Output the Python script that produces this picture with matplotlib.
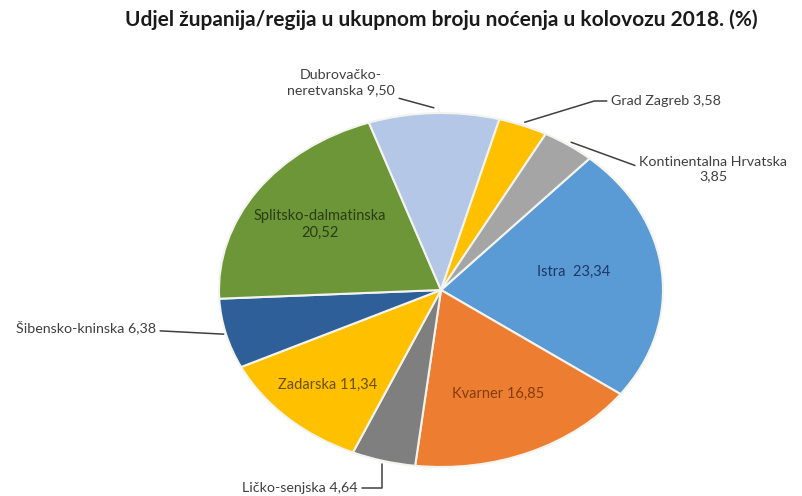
import numpy as np
import matplotlib.pyplot as plt

plt.rcParams['font.family'] = ['Lato', 'DejaVu Sans']

# data
regions = ['Istra', 'Kvarner', 'Ličko-senjska', 'Zadarska', 'Šibensko-kninska',
           'Splitsko-dalmatinska', 'Dubrovačko-neretvanska', 'Grad Zagreb',
           'Kontinentalna Hrvatska']
shares = [23.34, 16.85, 4.64, 11.34, 6.38, 20.52, 9.50, 3.58, 3.85]
colors = ['#5b9bd5', '#ed7d31', '#7f7f7f', '#ffc000', '#2f5f98',
          '#6c9637', '#b4c7e7', '#ffc000', '#a5a5a5']

W, H = 803, 496
fig = plt.figure(figsize=(W / 100, H / 100), dpi=100)

def fx(x, y):
    return (x / W, 1 - y / H)

# pie as an ellipse: centre (441, 290), rx 222, ry 177 px
cx, cy, rx, ry = 441, 290, 222, 177
ax = fig.add_axes([(cx - rx) / W, 1 - (cy + ry) / H, 2 * rx / W, 2 * ry / H])
wedges, _ = ax.pie(shares, colors=colors, startangle=48, counterclock=False,
                   radius=1.0, wedgeprops=dict(edgecolor='#f4f4ee', linewidth=1.5))
ax.set_aspect('auto')
ax.set_xlim(-1, 1)
ax.set_ylim(-1, 1)
ax.axis('off')

def mid(i):
    w = wedges[i]
    return np.deg2rad((w.theta1 + w.theta2) / 2)

# inside labels
inside = {0: ('Istra  23,34', 0.6, '#1f3864'),
          1: ('Kvarner 16,85', 0.64, '#843c0c'),
          3: ('Zadarska 11,34', 0.74, '#6b5000'),
          5: ('Splitsko-dalmatinska\n20,52', 0.66, '#2b3d14')}
for i, (txt, r, c) in inside.items():
    a = mid(i)
    ax.text(r * np.cos(a), r * np.sin(a) + (0.04 if i == 0 else 0), txt,
            ha='center', va='center', fontsize=10.5, color=c, linespacing=1.25)

# outside labels with leader lines
lc = '#404040'
fs = 10.3
line = dict(arrowstyle='-', color=lc, lw=1.1, shrinkA=1, shrinkB=0)

a = mid(6)
ax.annotate('Dubrovačko-\nneretvanska 9,50', xy=(1.0 * np.cos(a), 1.03 * np.sin(a)),
            xytext=fx(395, 96), textcoords='figure fraction', ha='right', va='bottom',
            multialignment='center', fontsize=fs, color=lc, linespacing=1.3,
            annotation_clip=False, arrowprops=dict(line, connectionstyle='arc3'))

a = mid(7)
ax.annotate('Grad Zagreb 3,58', xy=(1.02 * np.cos(a), 1.02 * np.sin(a)),
            xytext=fx(611, 101), textcoords='figure fraction', ha='left', va='center',
            fontsize=fs, color=lc, annotation_clip=False,
            arrowprops=dict(line, connectionstyle='angle,angleA=180,angleB=17,rad=0'))

a = mid(8)
ax.annotate('Kontinentalna Hrvatska\n3,85', xy=(1.02 * np.cos(a), 1.02 * np.sin(a)),
            xytext=fx(639, 169), textcoords='figure fraction', ha='left', va='center',
            multialignment='center', fontsize=fs, color=lc, linespacing=1.3,
            annotation_clip=False,
            arrowprops=dict(line, connectionstyle='angle,angleA=180,angleB=-20,rad=0'))

a = mid(4)
ax.annotate('Šibensko-kninska 6,38', xy=(1.01 * np.cos(a), 1.01 * np.sin(a)),
            xytext=fx(156, 327), textcoords='figure fraction', ha='right', va='center',
            fontsize=fs, color=lc, annotation_clip=False,
            arrowprops=dict(line, connectionstyle='arc3'))

a = mid(2)
ax.annotate('Ličko-senjska 4,64', xy=(1.02 * np.cos(a), 1.02 * np.sin(a)),
            xytext=fx(358, 488), textcoords='figure fraction', ha='right', va='center',
            fontsize=fs, color=lc, annotation_clip=False,
            arrowprops=dict(line, connectionstyle='angle,angleA=0,angleB=90,rad=0'))

fig.text(*fx(441, 20), 'Udjel županija/regija u ukupnom broju noćenja u kolovozu 2018. (%)',
         ha='center', va='center', fontsize=15, fontweight='bold', color='#1a1a1a')

fig.savefig('out.png', dpi=100)
